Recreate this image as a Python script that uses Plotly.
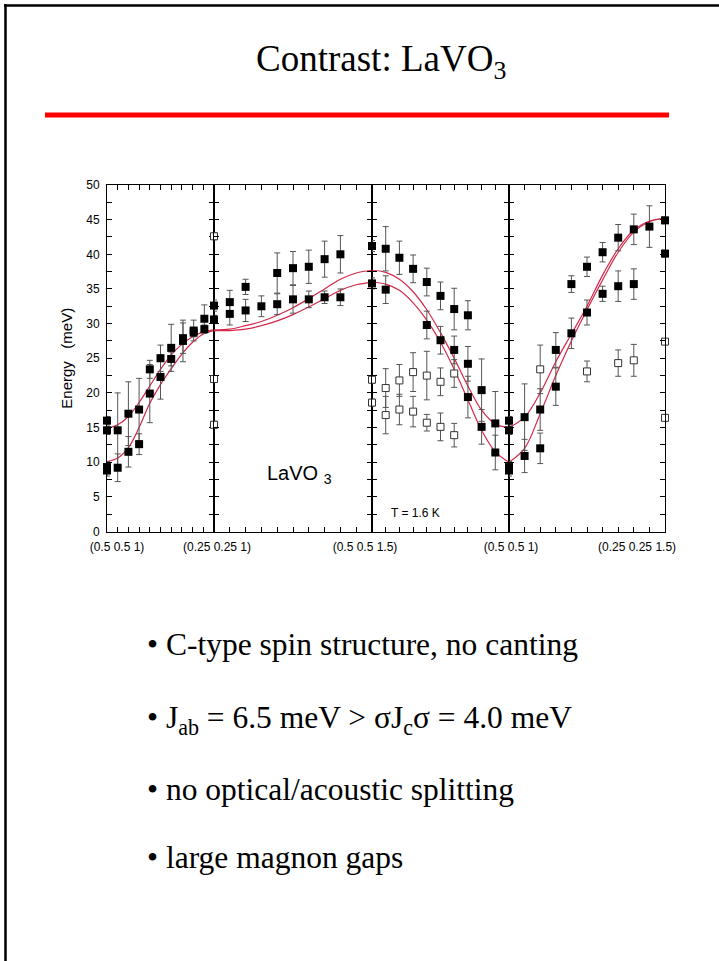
import plotly.graph_objects as go

W, H = 719, 961

# ---------------- data ----------------
seg_labels = ["(0.5 0.5 1)", "(0.25 0.25 1)", "(0.5 0.5 1.5)", "(0.5 0.5 1)", "(0.25 0.25 1.5)"]
q_ticks = [0.0, 0.1, 0.2, 0.3, 0.4, 0.5, 0.6, 0.7, 0.8, 0.9, 1.0]
e_ticks = [0, 5, 10, 15, 20, 25, 30, 35, 40, 45, 50]

# theory curves (two branches) sampled along each segment
curve_q = [0.0, 0.1, 0.2, 0.3, 0.4, 0.5, 0.6, 0.7, 0.8, 0.9, 1.0]
p1_upper = [14.9, 15.4, 16.6, 18.6, 21.0, 23.4, 25.5, 27.0, 28.1, 28.8, 29.1]
p1_lower = [10.1, 10.6, 12.1, 15.0, 18.5, 21.2, 23.5, 25.6, 27.3, 28.5, 29.0]
p2_upper = [29.1, 29.2, 29.7, 30.3, 31.2, 32.3, 33.6, 35.0, 36.4, 37.3, 37.7]
p2_lower = [29.0, 29.0, 29.2, 29.7, 30.4, 31.3, 32.4, 33.6, 34.8, 35.6, 36.0]
p3_upper = [37.7, 37.4, 36.4, 34.6, 32.0, 28.7, 25.0, 21.0, 17.5, 15.5, 15.0]
p3_lower = [36.0, 35.7, 34.8, 33.0, 30.5, 27.3, 23.4, 19.0, 14.6, 11.5, 10.0]
p4_upper = [15.0, 16.5, 20.0, 24.5, 28.5, 32.5, 37.0, 40.8, 43.5, 44.8, 45.2]
p4_lower = [10.0, 12.0, 17.0, 22.5, 27.5, 32.0, 36.3, 40.3, 43.2, 44.7, 45.2]

# panel 1: (0.5 0.5 1) -> (0.25 0.25 1)
p1_fill_q = [0.0, 0.0, 0.0, 0.0, 0.1, 0.1, 0.2, 0.2, 0.3, 0.3, 0.4, 0.4, 0.5, 0.5, 0.6, 0.6, 0.71, 0.71, 0.81, 0.81, 0.91, 0.91]
p1_fill_e = [16.0, 14.6, 9.3, 8.8, 14.6, 9.2, 17.0, 11.5, 17.6, 12.6, 23.4, 19.9, 25.0, 22.3, 26.5, 24.9, 27.9, 27.5, 29.0, 28.7, 30.7, 29.2]
p1_fill_err = [0.6, 0.6, 0.8, 0.8, 5.4, 2.0, 4.6, 2.2, 4.5, 1.5, 1.3, 4.2, 1.9, 3.2, 3.4, 1.0, 2.2, 3.0, 1.5, 0.6, 2.0, 0.6]

# panel 2: (0.25 0.25 1) -> (0.5 0.5 1.5)
p2_fill_q = [0.0, 0.0, 0.1, 0.1, 0.2, 0.2, 0.3, 0.4, 0.4, 0.5, 0.5, 0.6, 0.6, 0.7, 0.7, 0.8, 0.8]
p2_fill_e = [32.6, 30.6, 33.1, 31.4, 35.3, 31.9, 32.5, 37.3, 32.8, 38.0, 33.5, 38.2, 33.5, 39.3, 33.8, 40.0, 33.8]
p2_fill_err = [0.8, 0.6, 1.7, 1.6, 1.1, 1.6, 1.5, 2.9, 1.5, 2.4, 2.0, 2.4, 1.2, 2.6, 0.9, 2.7, 1.2]
p2_open_q = [0.0, 0.0, 0.0]
p2_open_e = [42.6, 22.0, 15.4]
p2_open_err = [0.5, 0.5, 0.5]

# panel 3: (0.5 0.5 1.5) -> (0.5 0.5 1)
p3_fill_q = [0.0, 0.0, 0.1, 0.1, 0.2, 0.3, 0.4, 0.4, 0.5, 0.5, 0.6, 0.6, 0.7, 0.7, 0.7, 0.8, 0.8, 0.9, 0.9]
p3_fill_e = [41.2, 35.8, 40.8, 34.9, 39.5, 37.9, 36.0, 29.8, 34.0, 27.6, 32.1, 26.2, 31.2, 24.2, 19.4, 20.4, 15.1, 15.6, 11.4]
p3_fill_err = [0.8, 0.8, 3.2, 2.0, 2.4, 2.0, 2.0, 2.0, 2.0, 2.0, 3.0, 2.0, 2.1, 2.5, 3.0, 4.5, 2.5, 4.6, 2.5]
p3_open_q = [0.0, 0.0, 0.1, 0.1, 0.2, 0.2, 0.3, 0.3, 0.4, 0.4, 0.5, 0.5, 0.6, 0.6]
p3_open_e = [21.9, 18.6, 20.7, 16.8, 21.8, 17.6, 23.0, 17.3, 22.5, 15.7, 21.6, 15.1, 22.8, 13.9]
p3_open_err = [0.5, 0.5, 2.8, 2.7, 2.3, 2.2, 2.8, 2.2, 3.5, 1.2, 2.0, 2.0, 2.0, 1.7]

# panel 4: (0.5 0.5 1) -> (0.25 0.25 1.5)
p4_fill_q = [0.0, 0.0, 0.0, 0.0, 0.1, 0.1, 0.2, 0.2, 0.3, 0.3, 0.4, 0.4, 0.5, 0.5, 0.6, 0.6, 0.7, 0.7, 0.8, 0.8, 0.9, 1.0, 1.0]
p4_fill_e = [16.0, 14.6, 9.3, 8.8, 16.5, 10.9, 17.6, 12.0, 20.9, 26.2, 28.6, 35.7, 31.6, 38.2, 34.3, 40.3, 35.4, 42.4, 35.7, 43.6, 44.0, 44.9, 40.1]
p4_fill_err = [0.6, 0.6, 0.8, 0.8, 4.8, 2.4, 3.0, 2.2, 2.7, 2.5, 2.2, 1.2, 1.8, 1.4, 1.1, 1.4, 2.2, 1.9, 2.2, 2.2, 3.0, 0.5, 0.5]
p4_open_q = [0.2, 0.5, 0.7, 0.8, 1.0, 1.0]
p4_open_e = [23.4, 23.1, 24.3, 24.7, 27.4, 16.4]
p4_open_err = [3.5, 1.5, 1.9, 2.3, 0.0, 0.0]

# ---------------- layout constants ----------------
panel_px = [107, 214, 372, 509, 665]
label_shift = [10, 3, -7, 2]
y_dom = [1 - 531.5 / H, 1 - 185 / H]
SANS = "Liberation Sans, Arial, sans-serif"
SERIF = "Liberation Serif, Times New Roman, serif"
RED = "#d4284a"
ERRC = "#555555"

panels = [
    (p1_upper, p1_lower, p1_fill_q, p1_fill_e, p1_fill_err, [], [], []),
    (p2_upper, p2_lower, p2_fill_q, p2_fill_e, p2_fill_err, p2_open_q, p2_open_e, p2_open_err),
    (p3_upper, p3_lower, p3_fill_q, p3_fill_e, p3_fill_err, p3_open_q, p3_open_e, p3_open_err),
    (p4_upper, p4_lower, p4_fill_q, p4_fill_e, p4_fill_err, p4_open_q, p4_open_e, p4_open_err),
]

fig = go.Figure()
layout_axes = {}
for i, (up, lo, fq, fe, ferr, oq, oe, oerr) in enumerate(panels):
    n = i + 1
    xa = "x" if n == 1 else f"x{n}"
    ya = "y" if n == 1 else f"y{n}"
    for branch in (up, lo):
        fig.add_trace(go.Scatter(x=curve_q, y=branch, mode="lines", xaxis=xa, yaxis=ya,
                                 line=dict(color=RED, width=1.2, shape="spline"),
                                 hoverinfo="skip", showlegend=False))
    if oq:
        fig.add_trace(go.Scatter(x=oq, y=oe, mode="markers", xaxis=xa, yaxis=ya,
                                 error_y=dict(type="data", array=oerr, color=ERRC, thickness=1, width=3),
                                 marker=dict(symbol="square", size=7, color="white",
                                             line=dict(color="#333333", width=1)),
                                 cliponaxis=False, showlegend=False))
    fig.add_trace(go.Scatter(x=fq, y=fe, mode="markers", xaxis=xa, yaxis=ya,
                             error_y=dict(type="data", array=ferr, color=ERRC, thickness=1, width=3),
                             marker=dict(symbol="square", size=8, color="black", line=dict(width=0)),
                             cliponaxis=False, showlegend=False))

    layout_axes["xaxis" if n == 1 else f"xaxis{n}"] = dict(
        domain=[panel_px[i] / W, panel_px[i + 1] / W], range=[0, 1],
        anchor=ya, tickmode="array", tickvals=[0.0], ticktext=[seg_labels[i]],
        ticks="inside", ticklen=5, tickwidth=1, tickcolor="black",
        ticklabelshift=label_shift[i], ticklabelstandoff=4,
        minor=dict(tickmode="array", tickvals=q_ticks, ticks="inside", ticklen=5,
                   tickwidth=1, tickcolor="black", showgrid=False),
        showline=True, linecolor="black", linewidth=1, mirror="ticks",
        showgrid=False, zeroline=False, automargin=False,
        tickfont=dict(family=SANS, size=12, color="black"))
    ydict = dict(
        domain=y_dom, range=[0, 50], anchor=xa,
        tickmode="array", tickvals=e_ticks,
        ticks="inside", ticklen=5, tickwidth=1, tickcolor="black",
        minor=dict(ticks="inside", dtick=2.5, ticklen=5, tickcolor="black", tickwidth=1,
                   showgrid=False),
        showline=True, linecolor="black", linewidth=1, mirror="ticks",
        showgrid=False, zeroline=False, showticklabels=(n == 1), automargin=False,
        tickfont=dict(family=SANS, size=12, color="black"))
    if n == 1:
        ydict["ticklabelstandoff"] = 4
        ydict["title"] = dict(text="Energy\u00a0\u00a0\u00a0(meV)",
                              font=dict(family=SANS, size=15, color="black"), standoff=9)
    else:
        ydict["matches"] = "y"
    layout_axes["yaxis" if n == 1 else f"yaxis{n}"] = ydict

annotations = [
    dict(text=seg_labels[4], xref="x4", x=1, yref="paper", y=1 - 547 / H,
         xanchor="center", yanchor="middle", xshift=-28, showarrow=False,
         font=dict(family=SANS, size=12, color="black")),
    dict(text="LaVO\u00a0<sub>3</sub>", xref="x2", x=0.54, yref="y2", y=8.2,
         xanchor="center", yanchor="middle", showarrow=False,
         font=dict(family=SANS, size=20, color="black")),
    dict(text="T = 1.6 K", xref="x3", x=0.318, yref="y3", y=2.7,
         xanchor="center", yanchor="middle", showarrow=False,
         font=dict(family=SANS, size=12, color="black")),
    dict(text="Contrast: LaVO<sub>3</sub>", xref="paper", x=381 / W, yref="paper", y=1 - 61 / H,
         xanchor="center", yanchor="middle", showarrow=False,
         font=dict(family=SERIF, size=37, color="black")),
]
bullets = ["\u2022 C-type spin structure, no canting",
           "\u2022 J<sub>ab</sub> = 6.5 meV > \u03c3J<sub>c</sub>\u03c3 = 4.0 meV",
           "\u2022 no optical/acoustic splitting",
           "\u2022 large magnon gaps"]
bullet_y = [644, 720, 789, 857]
for txt, yy in zip(bullets, bullet_y):
    annotations.append(dict(text=txt, xref="paper", x=145 / W, yref="paper", y=1 - yy / H,
                            xanchor="left", yanchor="middle", showarrow=False,
                            font=dict(family=SERIF, size=31.5, color="black")))

shapes = [
    dict(type="line", xref="paper", yref="paper", x0=45 / W, x1=669 / W,
         y0=1 - 115 / H, y1=1 - 115 / H, line=dict(color="#ff0000", width=5)),
    dict(type="line", xref="paper", yref="paper", x0=4 / W, x1=1,
         y0=1 - 5.5 / H, y1=1 - 5.5 / H, line=dict(color="black", width=2.5)),
    dict(type="line", xref="paper", yref="paper", x0=5.5 / W, x1=5.5 / W,
         y0=0, y1=1 - 4 / H, line=dict(color="black", width=2.5)),
]

fig.update_layout(width=W, height=H, margin=dict(l=0, r=0, t=0, b=0, autoexpand=False),
                  paper_bgcolor="white", plot_bgcolor="white",
                  showlegend=False, annotations=annotations, shapes=shapes,
                  **layout_axes)

fig.write_html("out.html")
